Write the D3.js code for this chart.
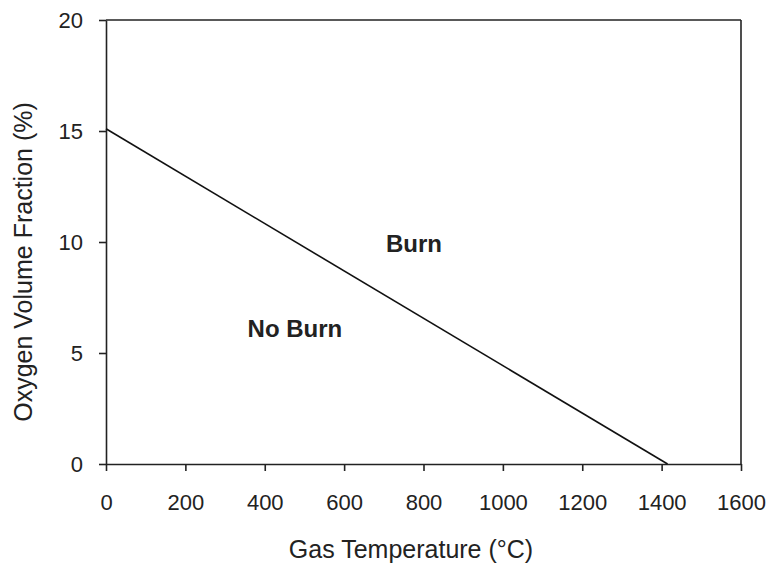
<!DOCTYPE html>
<html><head><meta charset="utf-8">
<script src="https://cdn.jsdelivr.net/npm/d3@7"></script>
<style>body{margin:0;background:#fff}svg text{font-family:"Liberation Sans",Arial,sans-serif;fill:#222}</style>
</head><body><svg id="c" width="767" height="565"></svg>
<script>
const xTicks = [0,200,400,600,800,1000,1200,1400,1600];
const yTicks = [0,5,10,15,20];
const boundaryT = [0, 1415];
const boundaryO2 = [15.1, 0];
const regionLabels = ["Burn","No Burn"];
const regionT = [776, 476];
const regionO2 = [9.55, 5.72];

const svg = d3.select("#c");
const m = {l:106, t:20, r:741, b:464};
const x = d3.scaleLinear().domain([0,1600]).range([m.l,m.r]);
const y = d3.scaleLinear().domain([0,20]).range([m.b,m.t]);
const font = '"Liberation Sans",Arial,sans-serif';

const xa = svg.append("g").attr("transform",`translate(0,${m.b})`)
  .call(d3.axisBottom(x).tickValues(xTicks).tickFormat(d3.format("d")).tickSize(7).tickPadding(23).tickSizeOuter(0));
const ya = svg.append("g").attr("transform",`translate(${m.l},0)`)
  .call(d3.axisLeft(y).tickValues(yTicks).tickFormat(d3.format("d")).tickSize(7).tickPadding(16).tickSizeOuter(0));
[xa,ya].forEach(a=>{
  a.selectAll("path,line").attr("stroke","#222").attr("stroke-width",1.6);
  a.selectAll("text").attr("font-size",22).attr("fill","#222").attr("font-family",font);
});
svg.append("line").attr("x1",m.l).attr("x2",m.r).attr("y1",m.t).attr("y2",m.t).attr("stroke","#222").attr("stroke-width",1.6);
svg.append("line").attr("x1",m.r).attr("x2",m.r).attr("y1",m.t).attr("y2",m.b).attr("stroke","#222").attr("stroke-width",1.6);

const pts = boundaryT.map((t,i)=>[t,boundaryO2[i]]);
svg.append("path").datum(pts).attr("fill","none").attr("stroke","#111").attr("stroke-width",1.6)
  .attr("d",d3.line().x(d=>x(d[0])).y(d=>y(d[1])));

regionLabels.forEach((s,i)=>{
  svg.append("text").attr("x",x(regionT[i])).attr("y",y(regionO2[i])).attr("text-anchor","middle")
    .attr("font-size",24).attr("font-weight","bold").text(s);
});

svg.append("text").attr("x",411).attr("y",558).attr("text-anchor","middle").attr("font-size",25).text("Gas Temperature (°C)");
svg.append("text").attr("transform",`translate(32,262) rotate(-90)`).attr("text-anchor","middle").attr("font-size",25).text("Oxygen Volume Fraction (%)");
</script></body></html>
